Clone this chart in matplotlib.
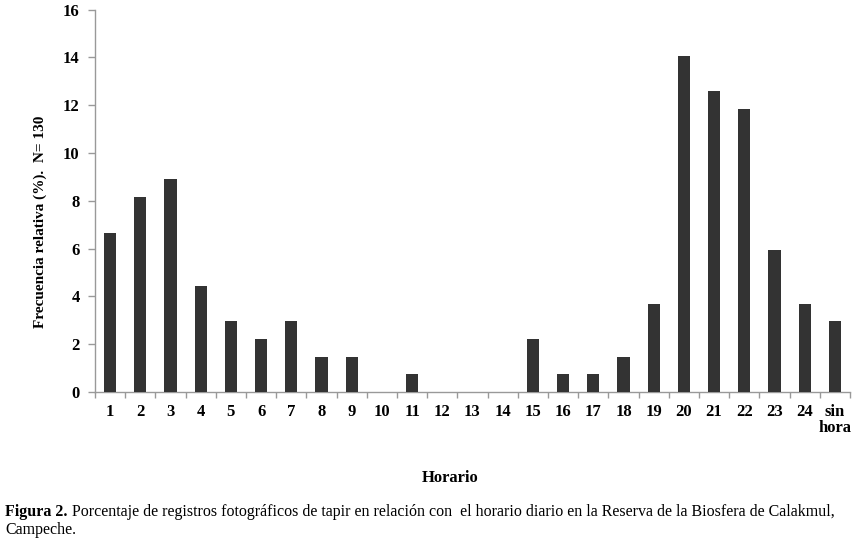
import matplotlib
matplotlib.use("Agg")
import matplotlib.pyplot as plt
import numpy as np

categories = ["1", "2", "3", "4", "5", "6", "7", "8", "9", "10", "11", "12",
              "13", "14", "15", "16", "17", "18", "19", "20", "21", "22", "23", "24", "sin\nhora"]
values = [6.67, 8.15, 8.89, 4.44, 2.96, 2.22, 2.96, 1.48, 1.48, 0.0, 0.74, 0.0,
          0.0, 0.0, 2.22, 0.74, 0.74, 1.48, 3.70, 14.07, 12.59, 11.85, 5.93, 3.70, 2.96]
yticks = [0, 2, 4, 6, 8, 10, 12, 14, 16]

plt.rcParams['font.family'] = ['Liberation Serif', 'DejaVu Serif']

W, H = 853, 541
fig = plt.figure(figsize=(W / 100, H / 100), dpi=100)
ax = fig.add_axes([95 / W, 1 - 392 / H, (850 - 95) / W, (392 - 9.5) / H])

x = np.arange(len(categories))
ax.bar(x, values, width=0.4, color="#333333", zorder=3)

ax.set_xlim(-0.5, len(categories) - 0.5)
ax.set_ylim(0, 16)
ax.set_yticks(yticks)
ax.set_yticklabels([str(t) for t in yticks], fontsize=12, fontweight="bold")
ax.set_xticks(x)
ax.set_xticklabels(categories, fontsize=12, fontweight="bold", va="top", linespacing=1.0)
ax.tick_params(axis="x", length=0, pad=9)
ax.set_xticks(np.arange(-0.5, len(categories) + 0.5, 1), minor=True)
ax.tick_params(axis="x", which="minor", length=4, color="#999999", width=1)
ax.tick_params(axis="y", length=5, color="#999999", width=1, pad=6)

for s in ["top", "right"]:
    ax.spines[s].set_visible(False)
for s in ["left", "bottom"]:
    ax.spines[s].set_color("#999999")
    ax.spines[s].set_linewidth(1)

fig.text(40 / W, 1 - 222 / H, "Frecuencia relativa (%).  N= 130", rotation=90,
         ha="center", va="center", fontsize=11, fontweight="bold")
fig.text(450 / W, 1 - 478 / H, "Horario", ha="center", va="center",
         fontsize=12, fontweight="bold")

fig.canvas.draw()
r = fig.canvas.get_renderer()
t1 = fig.text(5 / W, 1 - 512 / H, "Figura 2.", ha="left", va="center",
              fontsize=11.5, fontweight="bold")
bb = t1.get_window_extent(renderer=r)
fig.text((bb.x1 + 4) / W, 1 - 512 / H,
         "Porcentaje de registros fotográficos de tapir en relación con  el horario diario en la Reserva de la Biosfera de Calakmul,",
         ha="left", va="center", fontsize=11.5)
fig.text(5 / W, 1 - 530 / H, "Campeche.", ha="left", va="center", fontsize=11.5)

fig.savefig("out.png", dpi=100)
